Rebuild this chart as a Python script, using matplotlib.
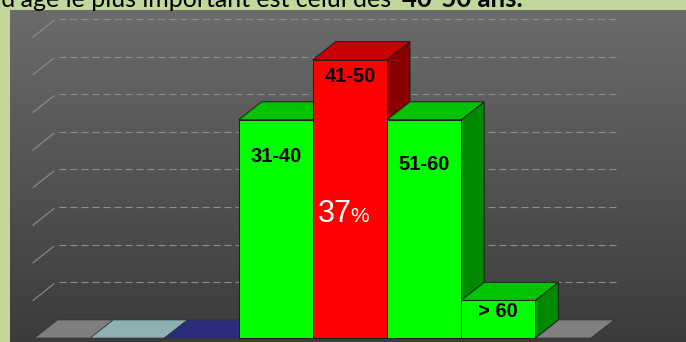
import numpy as np
import matplotlib
matplotlib.use("Agg")
import matplotlib.pyplot as plt
from matplotlib.colors import LinearSegmentedColormap
from matplotlib.patches import Polygon, Rectangle

# %% Données (répartition par tranche d'âge, en %)
categories = ["", "", "", "31-40", "41-50", "51-60", "> 60", ""]
values = [0, 0, 0, 29, 37, 29, 5, 0]
front_colors = ["#7f7f7f", "#8fb1b4", "#2b2b7c", "#00ff00", "#ff0000",
                "#00ff00", "#00ff00", "#808080"]
top_colors = ["#7f7f7f", "#8fb1b4", "#2b2b7c", "#00c400", "#c80000",
              "#00c400", "#00c400", "#808080"]
side_colors = ["#7f7f7f", "#8fb1b4", "#2b2b7c", "#008a00", "#8a0000",
               "#008a00", "#008a00", "#808080"]
grid_values = [5, 10, 15, 20, 25, 30, 35, 40]
highlight = "41-50"

# %% Mise en page
DX, DY = 0.31, 2.4          # profondeur 3D (unités catégorie / %)
X0, X1 = 0.25, 7.75         # bords gauche / droit du plancher
label_drop = {"31-40": 4.9, "41-50": 2.3, "51-60": 6.0, "> 60": 1.5}

fig = plt.figure(figsize=(6.86, 3.42), dpi=100)
fig.patch.set_facecolor("#c3d69b")

ax = fig.add_axes([10 / 686, 0, 676 / 686, 332 / 342])
xlim = (-0.081, 9.03)
ylim = (-0.53, 43.6)
ax.set_xlim(*xlim)
ax.set_ylim(*ylim)
ax.axis("off")

# fond dégradé
cmap = LinearSegmentedColormap.from_list("bg", ["#3b3b3b", "#6b6b6b"])
grad = np.linspace(0, 1, 256).reshape(-1, 1)
ax.imshow(grad, cmap=cmap, origin="lower", aspect="auto",
          extent=[xlim[0], xlim[1], ylim[0], ylim[1]], zorder=0)

# grille + lignes du mur gauche
for g in grid_values:
    ax.plot([X0 + DX + 0.02, X1 + DX + 0.05], [g + DY, g + DY], color="#8e8e8e",
            lw=0.8, dashes=(6.3, 3.6), zorder=1)
    ax.plot([X0 - 0.02, X0 + DX - 0.05], [g, g + DY - 0.2], color="#8e8e8e",
            lw=0.8, zorder=1)
ax.plot([X0 + DX, X1 + DX], [DY, DY], color="#2a2a2a", lw=1.0, zorder=1)

# barres 3D
for i, (cat, v) in enumerate(zip(categories, values)):
    left = max(i, X0)
    right = min(i + 1, X1)
    if v == 0:
        tile = [(left, 0), (right, 0), (right + DX, DY), (left + DX, DY)]
        ax.add_patch(Polygon(tile, closed=True, facecolor=front_colors[i],
                             edgecolor="#333333", lw=0.5, zorder=2))
        continue
    side = [(right, 0), (right + DX, DY), (right + DX, v + DY), (right, v)]
    top = [(left, v), (right, v), (right + DX, v + DY), (left + DX, v + DY)]
    ax.add_patch(Polygon(side, closed=True, facecolor=side_colors[i],
                         edgecolor="#1e1e1e", lw=0.7, zorder=3))
    ax.add_patch(Polygon(top, closed=True, facecolor=top_colors[i],
                         edgecolor="#1e1e1e", lw=0.7, zorder=3))
    ax.add_patch(Rectangle((left, 0), right - left, v, facecolor=front_colors[i],
                           edgecolor="#1e1e1e", lw=0.7, zorder=3))
    ax.text((left + right) / 2, v - label_drop[cat], cat, ha="center", va="center",
            fontsize=14.5, fontweight="bold", family="Liberation Sans",
            color="black", zorder=4)
    if cat == highlight:
        xc = (left + right) / 2 + 0.02
        ax.text(xc, v - 21.6, str(v), ha="right", va="baseline", fontsize=22,
                family="Liberation Sans", color="white", zorder=4)
        ax.text(xc - 0.01, v - 21.6, "%", ha="left", va="baseline", fontsize=15,
                family="Liberation Sans", color="white", zorder=4)

# titre (coupé en haut de l'image)
fig.text(391 / 686, 1 - 7 / 342, "La tranche d’âge le plus important est celui des",
         ha="right", va="baseline", fontsize=18, family="Lato", color="black")
fig.text(402 / 686, 1 - 7 / 342, "40-50 ans.", ha="left", va="baseline",
         fontsize=18.5, family="Lato", fontweight="bold", color="black")

fig.savefig("out.png", dpi=100, facecolor=fig.get_facecolor())
